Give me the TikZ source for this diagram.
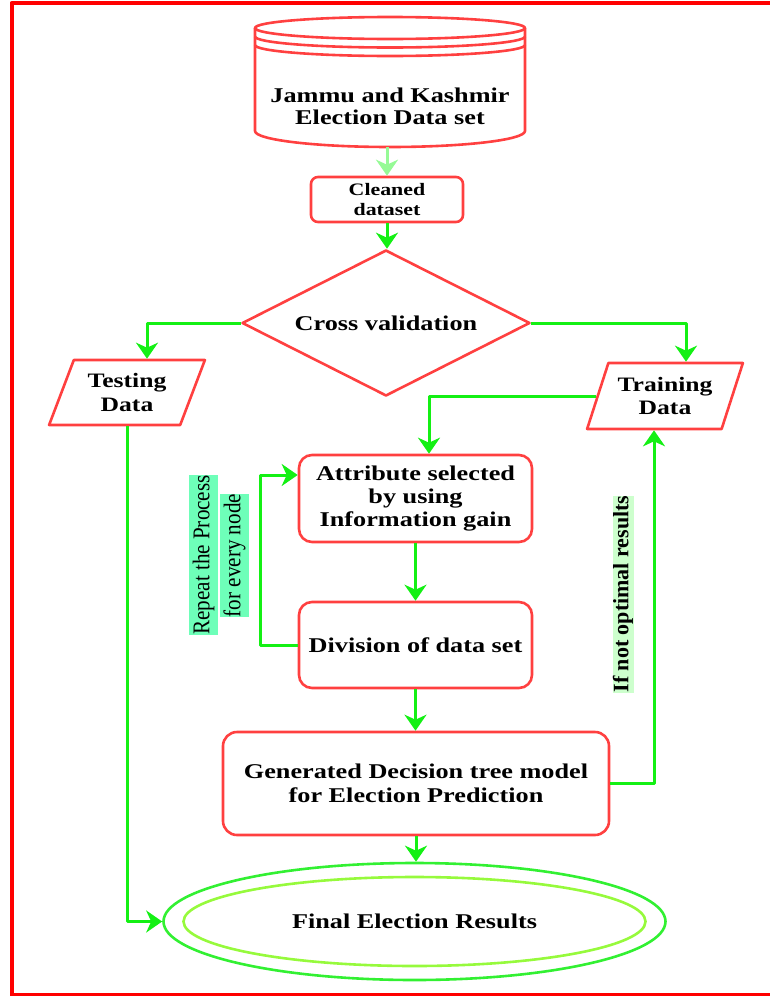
\documentclass[tikz,border=0pt]{standalone}
\usepackage{fontspec}
\setmainfont{Liberation Serif}
\newfontfamily\wideserif[FakeStretch=1.25]{Liberation Serif}
\newfontfamily\tallserif[FakeStretch=0.88]{Liberation Serif}
\usetikzlibrary{shapes.geometric,arrows.meta,calc}

\definecolor{boxred}{RGB}{255,64,64}
\definecolor{framered}{RGB}{255,0,0}
\definecolor{flowgreen}{RGB}{20,240,20}
\definecolor{palegreen}{RGB}{150,250,150}
\definecolor{ringouter}{RGB}{50,240,50}
\definecolor{ringinner}{RGB}{150,250,60}
\definecolor{notemint}{RGB}{110,255,185}
\definecolor{notelight}{RGB}{205,255,205}

\newcommand{\boxfont}[2]{\wideserif\bfseries\fontsize{#1}{#2}\selectfont}

\begin{document}
\begin{tikzpicture}[x=1pt, y=-1pt, line join=round,
  outline/.style={draw=boxred, line width=2.6pt},
  roundbox/.style={outline, rounded corners=#1, align=center, inner sep=0pt},
  slanted/.style={outline, trapezium, trapezium left angle=64.5,
    trapezium right angle=115.5, trapezium stretches=true,
    minimum width=156pt, minimum height=65pt, align=center, inner sep=0pt},
  flow/.style={draw=flowgreen, line width=3pt,
    -{Stealth[length=16pt,width=22pt,inset=5pt]}},
  paleflow/.style={flow, draw=palegreen},
  mintnote/.style={fill=notemint, inner xsep=0pt, inner ysep=0pt,
    minimum height=29pt, font=\tallserif\fontsize{24}{24}\selectfont},
  lightnote/.style={fill=notelight, inner xsep=0pt, inner ysep=0pt,
    minimum height=21pt, font=\bfseries\fontsize{22}{22}\selectfont}
]
\useasboundingbox (0,0) rectangle (770,996);

% page frame
\draw[framered, line width=4pt] (11.5,3) rectangle (790,994.5);

% data set cylinder
\node[minimum width=270pt, minimum height=130pt, inner sep=0pt] (db) at (390,82) {};
\draw[outline] (390,28) ellipse [x radius=135pt, y radius=11pt];
\draw[outline] (255,36.5) arc[start angle=180, end angle=360, x radius=135pt, y radius=11pt];
\draw[outline] (255,45) arc[start angle=180, end angle=360, x radius=135pt, y radius=11pt];
\draw[outline] (255,28) -- (255,131)
  arc[start angle=180, end angle=360, x radius=135pt, y radius=16pt] -- (525,28);
\node[align=center, font=\boxfont{21}{22}] (dbtext) at (390,106)
  {Jammu and Kashmir\\Election Data set};

% flow nodes
\node[roundbox=7pt, minimum width=152pt, minimum height=45pt,
  font=\boxfont{17.5}{20}] (clean) at (387,199.5) {Cleaned\\dataset};
\node[outline, diamond, aspect=1.97, minimum width=288pt, minimum height=146pt,
  inner sep=0pt, font=\boxfont{21}{23}] (cv) at (386,323) {Cross validation};
\node[slanted, font=\boxfont{20.5}{24}] (test) at (127,392.5) {Testing\\Data};
\node[slanted, minimum height=66pt, font=\boxfont{20.5}{23}] (train) at (665,396)
  {Training\\Data};
\node[roundbox=13pt, minimum width=233pt, minimum height=87pt,
  font=\boxfont{21}{23}] (attr) at (415.5,498.5)
  {Attribute selected\\by using\\Information gain};
\node[roundbox=13pt, minimum width=233pt, minimum height=86pt,
  font=\boxfont{21}{23}] (div) at (415.5,645) {Division of data set};
\node[roundbox=14pt, minimum width=386pt, minimum height=103pt,
  font=\boxfont{21}{24}] (gen) at (416,783.5)
  {Generated Decision tree model\\for Election Prediction};
\node[ellipse, draw=ringouter, line width=2.6pt, minimum width=502pt,
  minimum height=117pt, inner sep=0pt, font=\boxfont{21}{23}] (final)
  at (414.5,921.5) {Final Election Results};
\draw[ringinner, line width=2.6pt] (final.center)
  ellipse [x radius=231pt, y radius=44.5pt];

% notes on the loops
\node[mintnote, rotate=90] (rep1) at (203.5,555) {Repeat the Process};
\node[mintnote, rotate=90] (rep2) at (234.5,555.5) {for every node};
\node[lightnote, rotate=90] (cond) at (623,594) {If not optimal results};

% connectors
\draw[paleflow] (clean.north |- db.south) -- (clean.north);
\draw[flow] (clean.south) -- (clean.south |- cv.north);
\draw[flow] (cv.west) -| ([xshift=20pt]test.north);
\draw[flow] (cv.east) -| ([xshift=21pt]train.north);
\draw[flow] (train.west) -| ([xshift=13.5pt]attr.north);
\draw[flow] (attr.south) -- (div.north);
\draw[flow] (div.west) -- ++(-37,0) |- ([yshift=23.5pt]attr.west);
\draw[flow] (div.south) -- (div.south |- gen.north);
\draw[flow] (gen.east) -| ([xshift=-11pt]train.south);
\draw[flow] (gen.south) -- (gen.south |- final.north);
\draw[flow] (test.south) |- (final.west);
\end{tikzpicture}
\end{document}
